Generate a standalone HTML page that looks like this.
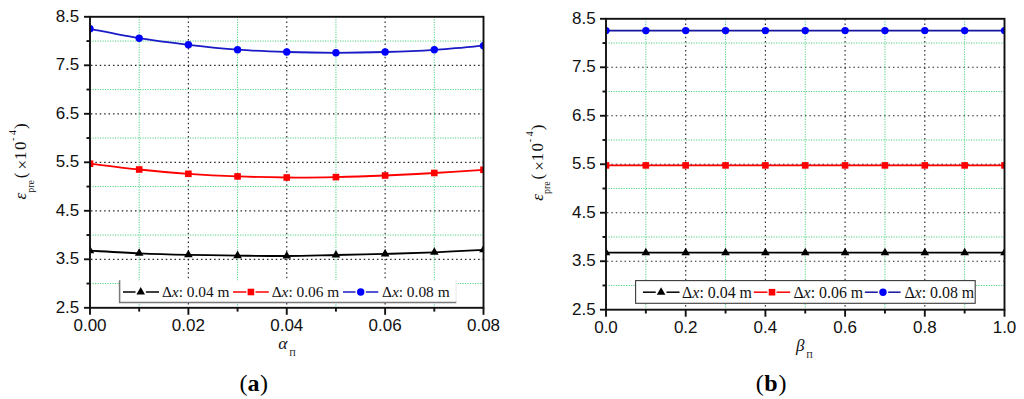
<!DOCTYPE html>
<html><head><meta charset="utf-8"><style>
html,body{margin:0;padding:0;background:#fff;}
body{width:1024px;height:399px;overflow:hidden;}
svg{display:block;}
.tl{font-family:"Liberation Sans",sans-serif;font-size:17px;fill:#111;}
.lg{font-family:"Liberation Serif",serif;font-size:15.4px;fill:#111;}
.ax{font-family:"Liberation Serif",serif;font-size:17px;fill:#111;}
.pl{font-family:"Liberation Serif",serif;font-size:24px;fill:#000;}
</style></head><body>
<svg width="1024" height="399" viewBox="0 0 1024 399">
<rect width="1024" height="399" fill="#fff"/>
<line x1="90" y1="41.05" x2="483.5" y2="41.05" stroke="rgb(80,210,130)" stroke-width="1" stroke-dasharray="1.2 1.3"/>
<line x1="90" y1="65.3" x2="483.5" y2="65.3" stroke="#262626" stroke-width="1.15" stroke-dasharray="1.5 2.9" stroke-dashoffset="-0.95"/>
<line x1="90" y1="89.55" x2="483.5" y2="89.55" stroke="rgb(80,210,130)" stroke-width="1" stroke-dasharray="1.2 1.3"/>
<line x1="90" y1="113.8" x2="483.5" y2="113.8" stroke="#262626" stroke-width="1.15" stroke-dasharray="1.5 2.9" stroke-dashoffset="-0.95"/>
<line x1="90" y1="138.05" x2="483.5" y2="138.05" stroke="rgb(80,210,130)" stroke-width="1" stroke-dasharray="1.2 1.3"/>
<line x1="90" y1="162.3" x2="483.5" y2="162.3" stroke="#262626" stroke-width="1.15" stroke-dasharray="1.5 2.9" stroke-dashoffset="-0.95"/>
<line x1="90" y1="186.55" x2="483.5" y2="186.55" stroke="rgb(80,210,130)" stroke-width="1" stroke-dasharray="1.2 1.3"/>
<line x1="90" y1="210.8" x2="483.5" y2="210.8" stroke="#262626" stroke-width="1.15" stroke-dasharray="1.5 2.9" stroke-dashoffset="-0.95"/>
<line x1="90" y1="235.05" x2="483.5" y2="235.05" stroke="rgb(80,210,130)" stroke-width="1" stroke-dasharray="1.2 1.3"/>
<line x1="90" y1="259.3" x2="483.5" y2="259.3" stroke="#262626" stroke-width="1.15" stroke-dasharray="1.5 2.9" stroke-dashoffset="-0.95"/>
<line x1="90" y1="283.55" x2="483.5" y2="283.55" stroke="rgb(80,210,130)" stroke-width="1" stroke-dasharray="1.2 1.3"/>
<line x1="139.19" y1="16.8" x2="139.19" y2="307.8" stroke="rgb(80,210,130)" stroke-width="1" stroke-dasharray="1.2 1.3"/>
<line x1="188.38" y1="16.8" x2="188.38" y2="307.8" stroke="#262626" stroke-width="1.15" stroke-dasharray="1.5 2.9" stroke-dashoffset="-0.3"/>
<line x1="237.56" y1="16.8" x2="237.56" y2="307.8" stroke="rgb(80,210,130)" stroke-width="1" stroke-dasharray="1.2 1.3"/>
<line x1="286.75" y1="16.8" x2="286.75" y2="307.8" stroke="#262626" stroke-width="1.15" stroke-dasharray="1.5 2.9" stroke-dashoffset="-0.3"/>
<line x1="335.94" y1="16.8" x2="335.94" y2="307.8" stroke="rgb(80,210,130)" stroke-width="1" stroke-dasharray="1.2 1.3"/>
<line x1="385.12" y1="16.8" x2="385.12" y2="307.8" stroke="#262626" stroke-width="1.15" stroke-dasharray="1.5 2.9" stroke-dashoffset="-0.3"/>
<line x1="434.31" y1="16.8" x2="434.31" y2="307.8" stroke="rgb(80,210,130)" stroke-width="1" stroke-dasharray="1.2 1.3"/>
<rect x="119.5" y="280.5" width="336.5" height="22.5" fill="#fff"/><path d="M456,280.5 V302.2" fill="none" stroke="#e6e6e6" stroke-width="1"/><path d="M119.6,280.3 V302.4 H456.3" fill="none" stroke="#7a7a7a" stroke-width="1.5"/><line x1="123" y1="292" x2="135.5" y2="292" stroke="#000" stroke-width="1.5"/>
<line x1="145.9" y1="292" x2="159" y2="292" stroke="#000" stroke-width="1.5"/>
<path d="M140.7,286.93 L145,294.53 L136.4,294.53 Z" fill="#000"/>
<text x="161.9" y="297.4" class="lg" style="font-size:15.4px">&#916;<tspan font-style="italic">x</tspan>: 0.04 m</text>
<line x1="233" y1="292" x2="246.3" y2="292" stroke="#ff0000" stroke-width="1.5"/>
<line x1="255.5" y1="292" x2="268.8" y2="292" stroke="#ff0000" stroke-width="1.5"/>
<rect x="247.6" y="288.7" width="6.6" height="6.6" fill="#ff0000"/>
<text x="271.7" y="297.4" class="lg" style="font-size:15.4px">&#916;<tspan font-style="italic">x</tspan>: 0.06 m</text>
<line x1="343" y1="292" x2="355.5" y2="292" stroke="#1a1ac6" stroke-width="1.5"/>
<line x1="365.9" y1="292" x2="378.3" y2="292" stroke="#1a1ac6" stroke-width="1.5"/>
<circle cx="360.7" cy="292" r="3.7" fill="#0000ff"/>
<text x="382" y="297.4" class="lg" style="font-size:15.4px">&#916;<tspan font-style="italic">x</tspan>: 0.08 m</text>
<clipPath id="ca"><rect x="90" y="16.8" width="393.5" height="291"/></clipPath>
<g clip-path="url(#ca)">
<path d="M90,250.7 C98.2,251.13 122.79,252.62 139.19,253.3 C155.58,253.98 171.98,254.42 188.38,254.8 C204.77,255.18 221.17,255.4 237.56,255.6 C253.96,255.8 270.35,256.1 286.75,256 C303.15,255.9 319.54,255.35 335.94,255 C352.33,254.65 368.73,254.35 385.12,253.9 C401.52,253.45 417.92,252.98 434.31,252.3 C450.71,251.62 475.3,250.22 483.5,249.8" fill="none" stroke="#000" stroke-width="1.8"/>
<path d="M90,245.63 L94.3,253.23 L85.7,253.23 Z" fill="#000"/>
<path d="M139.19,248.23 L143.49,255.83 L134.89,255.83 Z" fill="#000"/>
<path d="M188.38,249.73 L192.68,257.33 L184.07,257.33 Z" fill="#000"/>
<path d="M237.56,250.53 L241.86,258.13 L233.26,258.13 Z" fill="#000"/>
<path d="M286.75,250.93 L291.05,258.53 L282.45,258.53 Z" fill="#000"/>
<path d="M335.94,249.93 L340.24,257.53 L331.64,257.53 Z" fill="#000"/>
<path d="M385.12,248.83 L389.43,256.43 L380.82,256.43 Z" fill="#000"/>
<path d="M434.31,247.23 L438.61,254.83 L430.01,254.83 Z" fill="#000"/>
<path d="M483.5,244.73 L487.8,252.33 L479.2,252.33 Z" fill="#000"/>
<path d="M90,163.7 C98.2,164.67 122.79,167.82 139.19,169.5 C155.58,171.18 171.98,172.65 188.38,173.8 C204.77,174.95 221.17,175.78 237.56,176.4 C253.96,177.02 270.35,177.38 286.75,177.5 C303.15,177.62 319.54,177.43 335.94,177.1 C352.33,176.77 368.73,176.18 385.12,175.5 C401.52,174.82 417.92,173.95 434.31,173 C450.71,172.05 475.3,170.33 483.5,169.8" fill="none" stroke="#ff0000" stroke-width="1.8"/>
<rect x="86.7" y="160.4" width="6.6" height="6.6" fill="#ff0000"/>
<rect x="135.89" y="166.2" width="6.6" height="6.6" fill="#ff0000"/>
<rect x="185.07" y="170.5" width="6.6" height="6.6" fill="#ff0000"/>
<rect x="234.26" y="173.1" width="6.6" height="6.6" fill="#ff0000"/>
<rect x="283.45" y="174.2" width="6.6" height="6.6" fill="#ff0000"/>
<rect x="332.64" y="173.8" width="6.6" height="6.6" fill="#ff0000"/>
<rect x="381.82" y="172.2" width="6.6" height="6.6" fill="#ff0000"/>
<rect x="431.01" y="169.7" width="6.6" height="6.6" fill="#ff0000"/>
<rect x="480.2" y="166.5" width="6.6" height="6.6" fill="#ff0000"/>
<path d="M90,28.8 C98.2,30.37 122.79,35.53 139.19,38.2 C155.58,40.87 171.98,42.88 188.38,44.8 C204.77,46.72 221.17,48.5 237.56,49.7 C253.96,50.9 270.35,51.48 286.75,52 C303.15,52.52 319.54,52.8 335.94,52.8 C352.33,52.8 368.73,52.5 385.12,52 C401.52,51.5 417.92,50.85 434.31,49.8 C450.71,48.75 475.3,46.38 483.5,45.7" fill="none" stroke="#1a1ac6" stroke-width="1.8"/>
<circle cx="90" cy="28.8" r="3.7" fill="#0000ff"/>
<circle cx="139.19" cy="38.2" r="3.7" fill="#0000ff"/>
<circle cx="188.38" cy="44.8" r="3.7" fill="#0000ff"/>
<circle cx="237.56" cy="49.7" r="3.7" fill="#0000ff"/>
<circle cx="286.75" cy="52" r="3.7" fill="#0000ff"/>
<circle cx="335.94" cy="52.8" r="3.7" fill="#0000ff"/>
<circle cx="385.12" cy="52" r="3.7" fill="#0000ff"/>
<circle cx="434.31" cy="49.8" r="3.7" fill="#0000ff"/>
<circle cx="483.5" cy="45.7" r="3.7" fill="#0000ff"/>
</g>
<rect x="90" y="16.8" width="393.5" height="291" fill="none" stroke="#111" stroke-width="1.9"/>
<line x1="84" y1="16.8" x2="90" y2="16.8" stroke="#111" stroke-width="1.9"/>
<line x1="86.5" y1="41.05" x2="90" y2="41.05" stroke="#111" stroke-width="1.9"/>
<line x1="84" y1="65.3" x2="90" y2="65.3" stroke="#111" stroke-width="1.9"/>
<line x1="86.5" y1="89.55" x2="90" y2="89.55" stroke="#111" stroke-width="1.9"/>
<line x1="84" y1="113.8" x2="90" y2="113.8" stroke="#111" stroke-width="1.9"/>
<line x1="86.5" y1="138.05" x2="90" y2="138.05" stroke="#111" stroke-width="1.9"/>
<line x1="84" y1="162.3" x2="90" y2="162.3" stroke="#111" stroke-width="1.9"/>
<line x1="86.5" y1="186.55" x2="90" y2="186.55" stroke="#111" stroke-width="1.9"/>
<line x1="84" y1="210.8" x2="90" y2="210.8" stroke="#111" stroke-width="1.9"/>
<line x1="86.5" y1="235.05" x2="90" y2="235.05" stroke="#111" stroke-width="1.9"/>
<line x1="84" y1="259.3" x2="90" y2="259.3" stroke="#111" stroke-width="1.9"/>
<line x1="86.5" y1="283.55" x2="90" y2="283.55" stroke="#111" stroke-width="1.9"/>
<line x1="84" y1="307.8" x2="90" y2="307.8" stroke="#111" stroke-width="1.9"/>
<line x1="90" y1="307.8" x2="90" y2="314.8" stroke="#111" stroke-width="1.9"/>
<line x1="139.19" y1="307.8" x2="139.19" y2="311.6" stroke="#111" stroke-width="1.9"/>
<line x1="188.38" y1="307.8" x2="188.38" y2="314.8" stroke="#111" stroke-width="1.9"/>
<line x1="237.56" y1="307.8" x2="237.56" y2="311.6" stroke="#111" stroke-width="1.9"/>
<line x1="286.75" y1="307.8" x2="286.75" y2="314.8" stroke="#111" stroke-width="1.9"/>
<line x1="335.94" y1="307.8" x2="335.94" y2="311.6" stroke="#111" stroke-width="1.9"/>
<line x1="385.12" y1="307.8" x2="385.12" y2="314.8" stroke="#111" stroke-width="1.9"/>
<line x1="434.31" y1="307.8" x2="434.31" y2="311.6" stroke="#111" stroke-width="1.9"/>
<line x1="483.5" y1="307.8" x2="483.5" y2="314.8" stroke="#111" stroke-width="1.9"/>
<text x="79.3" y="21.6" class="tl" text-anchor="end">8.5</text>
<text x="79.3" y="70.1" class="tl" text-anchor="end">7.5</text>
<text x="79.3" y="118.6" class="tl" text-anchor="end">6.5</text>
<text x="79.3" y="167.1" class="tl" text-anchor="end">5.5</text>
<text x="79.3" y="215.6" class="tl" text-anchor="end">4.5</text>
<text x="79.3" y="264.1" class="tl" text-anchor="end">3.5</text>
<text x="79.3" y="312.6" class="tl" text-anchor="end">2.5</text>
<text x="90" y="331.4" class="tl" text-anchor="middle">0.00</text>
<text x="188.38" y="331.4" class="tl" text-anchor="middle">0.02</text>
<text x="286.75" y="331.4" class="tl" text-anchor="middle">0.04</text>
<text x="385.12" y="331.4" class="tl" text-anchor="middle">0.06</text>
<text x="483.5" y="331.4" class="tl" text-anchor="middle">0.08</text>
<line x1="606" y1="43.04" x2="1004.5" y2="43.04" stroke="rgb(80,210,130)" stroke-width="1" stroke-dasharray="1.2 1.3"/>
<line x1="606" y1="67.28" x2="1004.5" y2="67.28" stroke="#262626" stroke-width="1.15" stroke-dasharray="1.5 2.9" stroke-dashoffset="-0.95"/>
<line x1="606" y1="91.52" x2="1004.5" y2="91.52" stroke="rgb(80,210,130)" stroke-width="1" stroke-dasharray="1.2 1.3"/>
<line x1="606" y1="115.77" x2="1004.5" y2="115.77" stroke="#262626" stroke-width="1.15" stroke-dasharray="1.5 2.9" stroke-dashoffset="-0.95"/>
<line x1="606" y1="140.01" x2="1004.5" y2="140.01" stroke="rgb(80,210,130)" stroke-width="1" stroke-dasharray="1.2 1.3"/>
<line x1="606" y1="164.25" x2="1004.5" y2="164.25" stroke="#262626" stroke-width="1.15" stroke-dasharray="1.5 2.9" stroke-dashoffset="-0.95"/>
<line x1="606" y1="188.49" x2="1004.5" y2="188.49" stroke="rgb(80,210,130)" stroke-width="1" stroke-dasharray="1.2 1.3"/>
<line x1="606" y1="212.73" x2="1004.5" y2="212.73" stroke="#262626" stroke-width="1.15" stroke-dasharray="1.5 2.9" stroke-dashoffset="-0.95"/>
<line x1="606" y1="236.97" x2="1004.5" y2="236.97" stroke="rgb(80,210,130)" stroke-width="1" stroke-dasharray="1.2 1.3"/>
<line x1="606" y1="261.22" x2="1004.5" y2="261.22" stroke="#262626" stroke-width="1.15" stroke-dasharray="1.5 2.9" stroke-dashoffset="-0.95"/>
<line x1="606" y1="285.46" x2="1004.5" y2="285.46" stroke="rgb(80,210,130)" stroke-width="1" stroke-dasharray="1.2 1.3"/>
<line x1="645.85" y1="18.8" x2="645.85" y2="309.7" stroke="rgb(80,210,130)" stroke-width="1" stroke-dasharray="1.2 1.3"/>
<line x1="685.7" y1="18.8" x2="685.7" y2="309.7" stroke="#262626" stroke-width="1.15" stroke-dasharray="1.5 2.9" stroke-dashoffset="-0.3"/>
<line x1="725.55" y1="18.8" x2="725.55" y2="309.7" stroke="rgb(80,210,130)" stroke-width="1" stroke-dasharray="1.2 1.3"/>
<line x1="765.4" y1="18.8" x2="765.4" y2="309.7" stroke="#262626" stroke-width="1.15" stroke-dasharray="1.5 2.9" stroke-dashoffset="-0.3"/>
<line x1="805.25" y1="18.8" x2="805.25" y2="309.7" stroke="rgb(80,210,130)" stroke-width="1" stroke-dasharray="1.2 1.3"/>
<line x1="845.1" y1="18.8" x2="845.1" y2="309.7" stroke="#262626" stroke-width="1.15" stroke-dasharray="1.5 2.9" stroke-dashoffset="-0.3"/>
<line x1="884.95" y1="18.8" x2="884.95" y2="309.7" stroke="rgb(80,210,130)" stroke-width="1" stroke-dasharray="1.2 1.3"/>
<line x1="924.8" y1="18.8" x2="924.8" y2="309.7" stroke="#262626" stroke-width="1.15" stroke-dasharray="1.5 2.9" stroke-dashoffset="-0.3"/>
<line x1="964.65" y1="18.8" x2="964.65" y2="309.7" stroke="rgb(80,210,130)" stroke-width="1" stroke-dasharray="1.2 1.3"/>
<rect x="635.6" y="280.6" width="339.6" height="22.7" fill="#fff" stroke="#3a3a3a" stroke-width="1.1"/><line x1="643" y1="292.2" x2="655.7" y2="292.2" stroke="#000" stroke-width="1.5"/>
<line x1="666.5" y1="292.2" x2="679.5" y2="292.2" stroke="#000" stroke-width="1.5"/>
<path d="M661.1,287.13 L665.4,294.73 L656.8,294.73 Z" fill="#000"/>
<text x="682.1" y="297.6" class="lg" style="font-size:15.9px">&#916;<tspan font-style="italic">x</tspan>: 0.04 m</text>
<line x1="753.8" y1="292.2" x2="767.4" y2="292.2" stroke="#ff0000" stroke-width="1.5"/>
<line x1="776.6" y1="292.2" x2="790.2" y2="292.2" stroke="#ff0000" stroke-width="1.5"/>
<rect x="768.7" y="288.9" width="6.6" height="6.6" fill="#ff0000"/>
<text x="793.4" y="297.6" class="lg" style="font-size:15.9px">&#916;<tspan font-style="italic">x</tspan>: 0.06 m</text>
<line x1="864.8" y1="292.2" x2="877.8" y2="292.2" stroke="#14149e" stroke-width="1.5"/>
<line x1="888.2" y1="292.2" x2="900.6" y2="292.2" stroke="#14149e" stroke-width="1.5"/>
<circle cx="883" cy="292.2" r="3.7" fill="#0000ff"/>
<text x="904.4" y="297.6" class="lg" style="font-size:15.9px">&#916;<tspan font-style="italic">x</tspan>: 0.08 m</text>
<clipPath id="cb"><rect x="606" y="18.8" width="398.5" height="290.9"/></clipPath>
<g clip-path="url(#cb)">
<path d="M606,252.7 C612.64,252.7 632.57,252.7 645.85,252.7 C659.13,252.7 672.42,252.7 685.7,252.7 C698.98,252.7 712.27,252.7 725.55,252.7 C738.83,252.7 752.12,252.7 765.4,252.7 C778.68,252.7 791.97,252.7 805.25,252.7 C818.53,252.7 831.82,252.7 845.1,252.7 C858.38,252.7 871.67,252.7 884.95,252.7 C898.23,252.7 911.52,252.7 924.8,252.7 C938.08,252.7 951.37,252.7 964.65,252.7 C977.93,252.7 997.86,252.7 1004.5,252.7" fill="none" stroke="#000" stroke-width="1.8"/>
<path d="M606,247.63 L610.3,255.23 L601.7,255.23 Z" fill="#000"/>
<path d="M645.85,247.63 L650.15,255.23 L641.55,255.23 Z" fill="#000"/>
<path d="M685.7,247.63 L690,255.23 L681.4,255.23 Z" fill="#000"/>
<path d="M725.55,247.63 L729.85,255.23 L721.25,255.23 Z" fill="#000"/>
<path d="M765.4,247.63 L769.7,255.23 L761.1,255.23 Z" fill="#000"/>
<path d="M805.25,247.63 L809.55,255.23 L800.95,255.23 Z" fill="#000"/>
<path d="M845.1,247.63 L849.4,255.23 L840.8,255.23 Z" fill="#000"/>
<path d="M884.95,247.63 L889.25,255.23 L880.65,255.23 Z" fill="#000"/>
<path d="M924.8,247.63 L929.1,255.23 L920.5,255.23 Z" fill="#000"/>
<path d="M964.65,247.63 L968.95,255.23 L960.35,255.23 Z" fill="#000"/>
<path d="M1004.5,247.63 L1008.8,255.23 L1000.2,255.23 Z" fill="#000"/>
<path d="M606,165.4 C612.64,165.4 632.57,165.4 645.85,165.4 C659.13,165.4 672.42,165.4 685.7,165.4 C698.98,165.4 712.27,165.4 725.55,165.4 C738.83,165.4 752.12,165.4 765.4,165.4 C778.68,165.4 791.97,165.4 805.25,165.4 C818.53,165.4 831.82,165.4 845.1,165.4 C858.38,165.4 871.67,165.4 884.95,165.4 C898.23,165.4 911.52,165.4 924.8,165.4 C938.08,165.4 951.37,165.4 964.65,165.4 C977.93,165.4 997.86,165.4 1004.5,165.4" fill="none" stroke="#ff0000" stroke-width="1.8"/>
<rect x="602.7" y="162.1" width="6.6" height="6.6" fill="#ff0000"/>
<rect x="642.55" y="162.1" width="6.6" height="6.6" fill="#ff0000"/>
<rect x="682.4" y="162.1" width="6.6" height="6.6" fill="#ff0000"/>
<rect x="722.25" y="162.1" width="6.6" height="6.6" fill="#ff0000"/>
<rect x="762.1" y="162.1" width="6.6" height="6.6" fill="#ff0000"/>
<rect x="801.95" y="162.1" width="6.6" height="6.6" fill="#ff0000"/>
<rect x="841.8" y="162.1" width="6.6" height="6.6" fill="#ff0000"/>
<rect x="881.65" y="162.1" width="6.6" height="6.6" fill="#ff0000"/>
<rect x="921.5" y="162.1" width="6.6" height="6.6" fill="#ff0000"/>
<rect x="961.35" y="162.1" width="6.6" height="6.6" fill="#ff0000"/>
<rect x="1001.2" y="162.1" width="6.6" height="6.6" fill="#ff0000"/>
<path d="M606,30.6 C612.64,30.6 632.57,30.6 645.85,30.6 C659.13,30.6 672.42,30.6 685.7,30.6 C698.98,30.6 712.27,30.6 725.55,30.6 C738.83,30.6 752.12,30.6 765.4,30.6 C778.68,30.6 791.97,30.6 805.25,30.6 C818.53,30.6 831.82,30.6 845.1,30.6 C858.38,30.6 871.67,30.6 884.95,30.6 C898.23,30.6 911.52,30.6 924.8,30.6 C938.08,30.6 951.37,30.6 964.65,30.6 C977.93,30.6 997.86,30.6 1004.5,30.6" fill="none" stroke="#14149e" stroke-width="1.8"/>
<circle cx="606" cy="30.6" r="3.7" fill="#0000ff"/>
<circle cx="645.85" cy="30.6" r="3.7" fill="#0000ff"/>
<circle cx="685.7" cy="30.6" r="3.7" fill="#0000ff"/>
<circle cx="725.55" cy="30.6" r="3.7" fill="#0000ff"/>
<circle cx="765.4" cy="30.6" r="3.7" fill="#0000ff"/>
<circle cx="805.25" cy="30.6" r="3.7" fill="#0000ff"/>
<circle cx="845.1" cy="30.6" r="3.7" fill="#0000ff"/>
<circle cx="884.95" cy="30.6" r="3.7" fill="#0000ff"/>
<circle cx="924.8" cy="30.6" r="3.7" fill="#0000ff"/>
<circle cx="964.65" cy="30.6" r="3.7" fill="#0000ff"/>
<circle cx="1004.5" cy="30.6" r="3.7" fill="#0000ff"/>
</g>
<rect x="606" y="18.8" width="398.5" height="290.9" fill="none" stroke="#111" stroke-width="1.9"/>
<line x1="600" y1="18.8" x2="606" y2="18.8" stroke="#111" stroke-width="1.9"/>
<line x1="602.5" y1="43.04" x2="606" y2="43.04" stroke="#111" stroke-width="1.9"/>
<line x1="600" y1="67.28" x2="606" y2="67.28" stroke="#111" stroke-width="1.9"/>
<line x1="602.5" y1="91.52" x2="606" y2="91.52" stroke="#111" stroke-width="1.9"/>
<line x1="600" y1="115.77" x2="606" y2="115.77" stroke="#111" stroke-width="1.9"/>
<line x1="602.5" y1="140.01" x2="606" y2="140.01" stroke="#111" stroke-width="1.9"/>
<line x1="600" y1="164.25" x2="606" y2="164.25" stroke="#111" stroke-width="1.9"/>
<line x1="602.5" y1="188.49" x2="606" y2="188.49" stroke="#111" stroke-width="1.9"/>
<line x1="600" y1="212.73" x2="606" y2="212.73" stroke="#111" stroke-width="1.9"/>
<line x1="602.5" y1="236.97" x2="606" y2="236.97" stroke="#111" stroke-width="1.9"/>
<line x1="600" y1="261.22" x2="606" y2="261.22" stroke="#111" stroke-width="1.9"/>
<line x1="602.5" y1="285.46" x2="606" y2="285.46" stroke="#111" stroke-width="1.9"/>
<line x1="600" y1="309.7" x2="606" y2="309.7" stroke="#111" stroke-width="1.9"/>
<line x1="606" y1="309.7" x2="606" y2="316.7" stroke="#111" stroke-width="1.9"/>
<line x1="645.85" y1="309.7" x2="645.85" y2="313.5" stroke="#111" stroke-width="1.9"/>
<line x1="685.7" y1="309.7" x2="685.7" y2="316.7" stroke="#111" stroke-width="1.9"/>
<line x1="725.55" y1="309.7" x2="725.55" y2="313.5" stroke="#111" stroke-width="1.9"/>
<line x1="765.4" y1="309.7" x2="765.4" y2="316.7" stroke="#111" stroke-width="1.9"/>
<line x1="805.25" y1="309.7" x2="805.25" y2="313.5" stroke="#111" stroke-width="1.9"/>
<line x1="845.1" y1="309.7" x2="845.1" y2="316.7" stroke="#111" stroke-width="1.9"/>
<line x1="884.95" y1="309.7" x2="884.95" y2="313.5" stroke="#111" stroke-width="1.9"/>
<line x1="924.8" y1="309.7" x2="924.8" y2="316.7" stroke="#111" stroke-width="1.9"/>
<line x1="964.65" y1="309.7" x2="964.65" y2="313.5" stroke="#111" stroke-width="1.9"/>
<line x1="1004.5" y1="309.7" x2="1004.5" y2="316.7" stroke="#111" stroke-width="1.9"/>
<text x="595.6" y="23.6" class="tl" text-anchor="end">8.5</text>
<text x="595.6" y="72.08" class="tl" text-anchor="end">7.5</text>
<text x="595.6" y="120.57" class="tl" text-anchor="end">6.5</text>
<text x="595.6" y="169.05" class="tl" text-anchor="end">5.5</text>
<text x="595.6" y="217.53" class="tl" text-anchor="end">4.5</text>
<text x="595.6" y="266.02" class="tl" text-anchor="end">3.5</text>
<text x="595.6" y="314.5" class="tl" text-anchor="end">2.5</text>
<text x="606" y="333.3" class="tl" text-anchor="middle">0.0</text>
<text x="685.7" y="333.3" class="tl" text-anchor="middle">0.2</text>
<text x="765.4" y="333.3" class="tl" text-anchor="middle">0.4</text>
<text x="845.1" y="333.3" class="tl" text-anchor="middle">0.6</text>
<text x="924.8" y="333.3" class="tl" text-anchor="middle">0.8</text>
<text x="1004.5" y="333.3" class="tl" text-anchor="middle">1.0</text>
<g transform="translate(25.8,199.5) rotate(-90)" class="ax"><text x="0" y="0" font-style="italic">&#949;</text><text x="6.7" y="7.7" font-size="10">pre</text><text x="21.2" y="0">(</text><text x="30" y="2">&#215;</text><text x="39.6" y="0">1</text><text x="49.4" y="0">0</text><text x="58.6" y="-9.8" font-size="10">-</text><text x="64.6" y="-9.8" font-size="10">4</text><text x="70.6" y="0">)</text></g>
<g transform="translate(542.6,200.8) rotate(-90)" class="ax"><text x="0" y="0" font-style="italic">&#949;</text><text x="6.7" y="7.7" font-size="10">pre</text><text x="21.2" y="0">(</text><text x="30" y="2">&#215;</text><text x="39.6" y="0">1</text><text x="49.4" y="0">0</text><text x="58.6" y="-9.8" font-size="10">-</text><text x="64.6" y="-9.8" font-size="10">4</text><text x="70.6" y="0">)</text></g>
<text x="278.2" y="349.4" class="ax" style="font-size:17.6px;font-style:italic">&#945;</text><text x="289.3" y="356" class="ax" style="font-size:9px">&#928;</text>
<text x="796" y="351.3" class="ax" font-style="italic">&#946;</text><text x="806.2" y="357.5" class="ax" style="font-size:9px">&#928;</text>
<text x="239.4" y="390.7" class="pl">(<tspan font-weight="bold">a</tspan><tspan dx="0.6">)</tspan></text>
<text x="755.7" y="390.7" class="pl">(<tspan font-weight="bold" dx="0.6">b</tspan><tspan dx="0.9">)</tspan></text>
</svg>
</body></html>
